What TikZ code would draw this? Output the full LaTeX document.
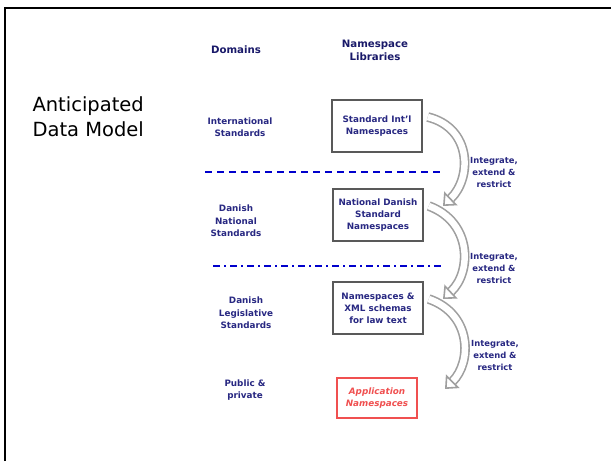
\documentclass[tikz,border=0pt]{standalone}
\usepackage{fontspec}
\setmainfont{DejaVu Sans}
\usetikzlibrary{arrows.meta}
\definecolor{navytext}{RGB}{40,40,130}
\definecolor{navyhead}{RGB}{25,25,105}
\definecolor{libred}{RGB}{240,80,80}

\tikzset{
  libbox/.style={draw=black!65, line width=1.5pt, fill=white, minimum width=90pt,
    minimum height=52pt, align=center, text=navytext, inner sep=1pt,
    font=\fontsize{8.8}{12}\selectfont\bfseries},
  domlabel/.style={align=center, text=navytext, font=\fontsize{8.8}{12.5}\selectfont\bfseries},
  headlabel/.style={align=center, text=navyhead, font=\fontsize{10.2}{13}\selectfont\bfseries},
  integ/.style={align=center, text=navytext, font=\fontsize{8.4}{12}\selectfont\bfseries},
  intarrow/.style={draw=gray!75, line width=1.6pt, double=white, double distance=6.5pt,
    -{Triangle[open, fill=white, width=19pt, length=11pt]}}
}

\begin{document}
\begin{tikzpicture}[x=1pt, y=-1pt]
        \useasboundingbox (0,0) rectangle (611,461);
        \fill[white] (0,0) rectangle (611,461);
        \draw[black, line width=2pt] (5,461) -- (5,8) -- (611,8);

        % headings
        \node[headlabel] (domains) at (236,50) {Domains};
        \node[headlabel] (libs) at (375,50) {Namespace\\Libraries};
        \node[anchor=north west, align=left, font=\fontsize{19.5}{25}\selectfont] (title) at (29,93) {Anticipated\\Data Model};

        % domains
        \node[domlabel] (intl) at (240,127) {International\\Standards};
        \node[domlabel] (natl) at (236,221) {Danish\\National\\Standards};
        \node[domlabel] (legis) at (246,313) {Danish\\Legislative\\Standards};
        \node[domlabel] (public) at (245,390) {Public \&\\private};

        % libraries
        \node[libbox] (b1) at (377,126) {Standard Int'l\\Namespaces};
        \node[libbox] (b2) at (378,215) {National Danish\\Standard\\Namespaces};
        \node[libbox] (b3) at (378,308) {Namespaces \&\\XML schemas\\for law text};
        \node[libbox, draw=libred, minimum width=80pt, minimum height=40pt, text=libred,
              font=\fontsize{8.8}{12}\selectfont\bfseries\itshape] (b4) at (377,398) {Application\\Namespaces};

        % separators
        \draw[blue!80!black, line width=1.3pt, dashed, dash pattern=on 7pt off 5pt] (205,172) -- (440,172);
        \draw[blue!80!black, line width=1.3pt, dash pattern=on 7pt off 4pt on 2pt off 4pt] (213,266) -- (443,266);
        \draw[libred, line width=0.8pt, double=white, double distance=1.2pt] (211,353) -- (444,353);

        % integrate arrows
        \coordinate (t1) at (443,206);
        \coordinate (t2) at (443,299);
        \coordinate (t3) at (445,389);
        \draw[intarrow] (b1.east) ++(5,-9) .. controls (472,128) and (472,178) .. (t1);
        \draw[intarrow] (b2.east) ++(5,-9) .. controls (472,222) and (472,272) .. (t2);
        \draw[intarrow] (b3.east) ++(5,-9) .. controls (472,314) and (472,362) .. (t3);

        \node[integ] (i1) at (494,172) {Integrate,\\extend \&\\restrict};
        \node[integ] (i2) at (494,268) {Integrate,\\extend \&\\restrict};
        \node[integ] (i3) at (495,355) {Integrate,\\extend \&\\restrict};
    \end{tikzpicture}
\end{document}
